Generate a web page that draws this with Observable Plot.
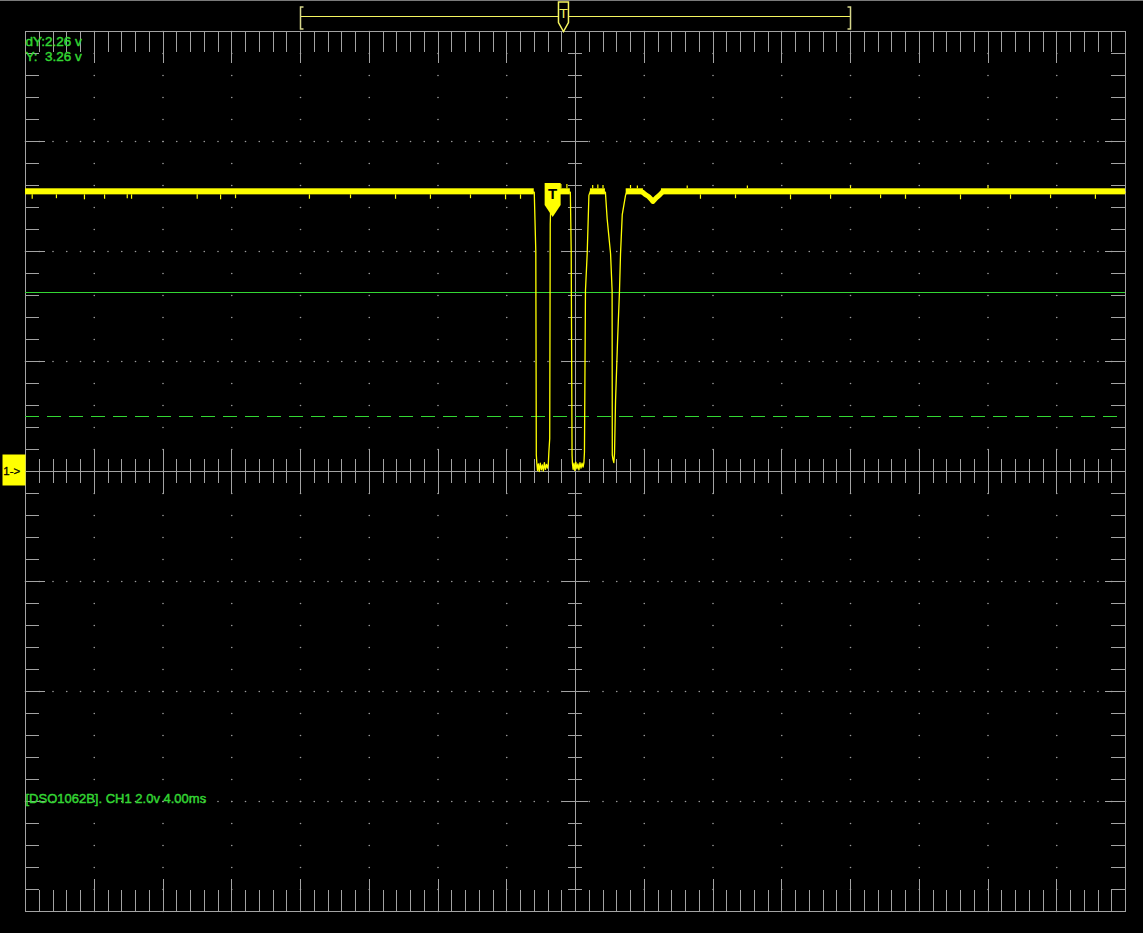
<!DOCTYPE html>
<html><head><meta charset="utf-8">
<style>
html,body{margin:0;padding:0;background:#000;overflow:hidden;}
#chart svg text{white-space:pre;}
</style>
<script src="https://cdn.jsdelivr.net/npm/d3@7"></script>
<script src="https://cdn.jsdelivr.net/npm/@observablehq/plot@0.6"></script>
</head><body><div id="chart"></div>
<script>
// ---------- data (time in ms relative to screen centre, voltage in V) ----------
const voltsPerDiv = 2.0;
const msPerDiv = 4.0;
const infoText = "[DSO1062B]. CH1 2.0v 4.00ms";
const cursorY = 3.26;
const cursorDY = 2.26;
const channelLabel = "1->";
const channelOffset = 0;

const traceT = [-32, -2.40, -2.31, -2.28, -2.25,
  -2.21, -2.16, -2.11, -2.05, -1.99, -1.93, -1.87, -1.81, -1.75, -1.69, -1.63, -1.58,
  -1.55, -1.50, -1.47, -1.42,
  -0.30, -0.25, -0.20, -0.18,
  -0.14, -0.09, -0.04, 0.02, 0.08, 0.14, 0.20, 0.26, 0.32, 0.38, 0.44, 0.49,
  0.52, 0.54, 0.58, 0.68, 0.78, 0.87,
  1.74, 1.84, 1.94, 2.04, 2.13, 2.14, 2.18, 2.23,
  2.27, 2.33, 2.45, 2.56, 2.62, 2.72, 2.91, 3.00,
  3.90, 4.05, 4.25, 4.40, 4.50, 4.62, 4.75, 4.90, 5.05, 32];
const traceV = [5.08, 5.08, 4.0, 0.3, 0.15,
  0.02, 0.14, 0.0, 0.15, 0.03, 0.12, 0.01, 0.16, 0.04, 0.13, 0.06, 0.15,
  0.35, 0.6, 4.5, 5.08,
  5.08, 4.0, 0.3, 0.15,
  0.04, 0.15, 0.02, 0.17, 0.05, 0.14, 0.03, 0.16, 0.06, 0.15, 0.08, 0.16,
  0.35, 1.29, 3.29, 3.96, 5.02, 5.10,
  5.08, 4.6, 4.28, 3.96, 3.29, 0.3, 0.22, 0.16,
  0.33, 1.29, 2.4, 3.29, 3.96, 4.67, 5.02, 5.10,
  5.08, 5.04, 5.0, 4.95, 4.91, 4.95, 4.99, 5.03, 5.08, 5.08];

// noisy high-level band (start / end of each high stretch)
const highStart = [-32, -1.42, 0.87, 2.95, 5.0];
const highEnd   = [-2.40, -0.30, 1.74, 3.95, 32];
const bandLow = 5.03, bandHigh = 5.14;

// single noise spikes on the high level
const spikeT = [-31.61, -30.2, -28.57, -27.4, -26.08, -25.83, -22.01, -20.65, -19.78, -15.48,
  -13.09, -10.47, -8.44, -6.11, -4.07, -3.2, 7.27, 9.31, 12.51, 14.84, 17.75, 19.2, 22.4, 25.31, 27.64, 30.25,
  -0.85, -0.5, 1.0, 1.3, 1.6, 3.2, 3.6, 6.5, 10.0, 16.0, 24.0];
const spikeV = [4.95, 4.96, 4.94, 4.95, 4.96, 4.95, 4.95, 4.94, 4.96, 4.95,
  4.96, 4.95, 4.95, 4.96, 4.94, 4.95, 4.95, 4.96, 4.94, 4.95, 4.96, 4.95, 4.94, 4.95, 4.96, 4.95,
  5.22, 5.22, 5.2, 5.21, 5.2, 5.2, 5.19, 5.19, 5.19, 5.19, 5.19];

const triggerT = -1.33;          // trigger flag on the trace
const triggerLevel = 5.08;
const windowStart = -16, windowEnd = 16, windowTrigger = -0.70; // memory bar at the top

// ---------- layout helpers ----------
const W = 1143, H = 933;
const mL = 25, mR = 18, mT = 31, mB = 22;
const xMin = -8 * msPerDiv, xMax = 8 * msPerDiv;
const yMin = -4 * voltsPerDiv, yMax = 4 * voltsPerDiv;
const pxPerMs = (W - mL - mR) / (xMax - xMin);
const pxPerV = (H - mT - mB) / (yMax - yMin);
const pxY = p => p / pxPerV;   // pixel length -> volts
const pxX = p => p / pxPerMs;  // pixel length -> ms

const minorX = d3.range(0, 81).map(i => xMin + i * msPerDiv / 5);
const minorY = d3.range(0, 41).map(i => yMin + i * voltsPerDiv / 5);
const isMajX = t => Math.abs(t / msPerDiv - Math.round(t / msPerDiv)) < 1e-6;
const isMajY = v => Math.abs(v / voltsPerDiv - Math.round(v / voltsPerDiv)) < 1e-6;
const majorX = minorX.filter(isMajX);
const majorY = minorY.filter(isMajY);

const dots = [];
majorX.filter(t => t !== 0 && t > xMin && t < xMax).forEach(t => minorY.forEach(v => dots.push({t, v})));
majorY.filter(v => v !== 0 && v > yMin && v < yMax).forEach(v => minorX.forEach(t => dots.push({t, v})));

const trace = traceT.map((t, i) => ({t, v: traceV[i]}));
const bands = highStart.map((s, i) => ({s, e: highEnd[i]}));
const spikes = spikeT.map((t, i) => ({t, v: spikeV[i]}));

const GRAY = "#a3a3a3";
const YEL = "#ffff00";
const GRN = "#33d633";

const sym = (pts, close = true) => ({draw(ctx) {
  ctx.moveTo(pts[0][0], pts[0][1]);
  for (let i = 1; i < pts.length; i++) ctx.lineTo(pts[i][0], pts[i][1]);
  if (close) ctx.closePath();
}});
const flagSym = sym([[-8,-9],[8,-9],[8,13],[0,25],[-8,13]]);
const topSym = sym([[-5,-14.5],[5,-14.5],[5,6],[0,15],[-5,6]]);
const lBracket = sym([[3,-9.5],[0,-9.5],[0,12.5],[3,12.5]], false);
const rBracket = sym([[-3,-9.5],[0,-9.5],[0,12.5],[-3,12.5]], false);
const boxSym = {draw(ctx){ ctx.rect(-23, -17, 23, 31); }};

const topBarV = yMax + pxY(31 - 16);
const topEdgeV = yMax + pxY(31 - 0.5);

const crisp = {shapeRendering: "crispEdges"};
const readout = {fill: GRN, stroke: GRN, strokeWidth: 0.45, fontFamily: "Liberation Sans, Arial, sans-serif", textAnchor: "start", lineAnchor: "bottom"};

const chart = Plot.plot({
  width: W, height: H,
  marginLeft: mL, marginRight: mR, marginTop: mT, marginBottom: mB,
  x: {domain: [xMin, xMax], axis: null},
  y: {domain: [yMin, yMax], axis: null},
  style: {background: "#000", overflow: "visible"},
  marks: [
    Plot.ruleY([topEdgeV], {x1: xMin - pxX(mL), x2: xMax + pxX(mR), stroke: "#7a7a7a", ...crisp}),
    Plot.frame({stroke: GRAY, ...crisp}),
    // dotted division grid
    Plot.dot(dots, {x: "t", y: "v", r: 0.8, fill: "#9a9a9a", stroke: "none"}),
    // top / bottom frame ticks
    Plot.ruleX(minorX.slice(1, -1), {x: d => d, y1: yMax, y2: d => yMax - pxY(isMajX(d) ? 32 : 21), stroke: GRAY, ...crisp}),
    Plot.ruleX(minorX.slice(1, -1), {x: d => d, y1: yMin, y2: d => yMin + pxY(isMajX(d) ? 32 : 21), stroke: GRAY, ...crisp}),
    // left / right frame ticks
    Plot.ruleY(minorY.slice(1, -1), {y: d => d, x1: xMin, x2: d => xMin + pxX(isMajY(d) ? 20 : 14), stroke: GRAY, ...crisp}),
    Plot.ruleY(minorY.slice(1, -1), {y: d => d, x1: xMax, x2: d => xMax - pxX(isMajY(d) ? 20 : 14), stroke: GRAY, ...crisp}),
    // centre axes
    Plot.ruleY([0], {stroke: GRAY, ...crisp}),
    Plot.ruleX([0], {stroke: GRAY, ...crisp}),
    Plot.ruleX(minorX.slice(1, -1), {x: d => d, y1: d => -pxY(isMajX(d) ? 22.5 : 11.7), y2: d => pxY(isMajX(d) ? 22.5 : 11.7), stroke: GRAY, ...crisp}),
    Plot.ruleY(minorY.slice(1, -1), {y: d => d, x1: d => -pxX(isMajY(d) ? 13 : 7), x2: d => pxX(isMajY(d) ? 13 : 7), stroke: GRAY, ...crisp}),
    // cursors
    Plot.ruleY([cursorY], {stroke: GRN, ...crisp}),
    Plot.ruleY([cursorY - cursorDY], {stroke: GRN, strokeDasharray: "14,8", ...crisp}),
    // trace
    Plot.rect(bands, {x1: "s", x2: "e", y1: bandLow, y2: bandHigh, fill: YEL}),
    Plot.ruleX(spikes, {x: "t", y1: d => d.v < triggerLevel ? bandLow : bandHigh, y2: "v", stroke: YEL, strokeWidth: 1.2}),
    Plot.line(trace, {x: "t", y: "v", stroke: YEL, strokeWidth: 1.3}),
    Plot.line(trace.filter(d => d.t >= 3.85 && d.t <= 5.1), {x: "t", y: "v", stroke: YEL, strokeWidth: 5, strokeLinejoin: "round"}),
    Plot.dot([{t: triggerT, v: triggerLevel}], {x: "t", y: "v", symbol: flagSym, r: 8, fill: YEL, stroke: "none"}),
    Plot.text(["T"], {x: triggerT, y: triggerLevel, dy: 2, text: d => d, fill: "#000", fontSize: 15, fontWeight: "bold", fontFamily: "Liberation Sans, Arial, sans-serif", lineAnchor: "middle"}),
    // memory window bar at the top
    Plot.ruleY([topBarV], {x1: windowStart, x2: windowEnd, stroke: "#f5f560", ...crisp}),
    Plot.dot([windowStart], {x: d => d, y: topBarV, symbol: lBracket, r: 8, fill: "none", stroke: "#d6d68c"}),
    Plot.dot([windowEnd], {x: d => d, y: topBarV, symbol: rBracket, r: 8, fill: "none", stroke: "#d6d68c"}),
    Plot.dot([windowTrigger], {x: d => d, y: topBarV, symbol: topSym, r: 8, fill: "#000", stroke: "#f5f560"}),
    Plot.text(["T"], {x: windowTrigger, y: topBarV, dy: -3, text: d => d, fill: "#f5f560", fontSize: 13, fontFamily: "DejaVu Sans, sans-serif", lineAnchor: "middle"}),
    // channel marker
    Plot.dot([channelOffset], {x: xMin, y: d => d, symbol: boxSym, r: 8, fill: YEL, stroke: "none"}),
    Plot.text([channelLabel], {x: xMin, y: channelOffset, dx: -13.7, text: d => d, fill: "#000", stroke: "#000", strokeWidth: 0.3, fontSize: 11.5, fontFamily: "Liberation Sans, Arial, sans-serif", textAnchor: "middle", lineAnchor: "middle"}),
    // readouts
    Plot.text([`dY:${cursorDY.toFixed(2)} v`], {frameAnchor: "top-left", dy: 14, text: d => d, fontSize: 13.5, ...readout}),
    Plot.text([`Y:  ${cursorY.toFixed(2)} v`], {frameAnchor: "top-left", dy: 29, text: d => d, fontSize: 13.5, ...readout}),
    Plot.text([infoText], {frameAnchor: "bottom-left", dy: -109, text: d => d, fontSize: 13, ...readout})
  ]
});
document.getElementById("chart").appendChild(chart);
</script>
</body></html>
